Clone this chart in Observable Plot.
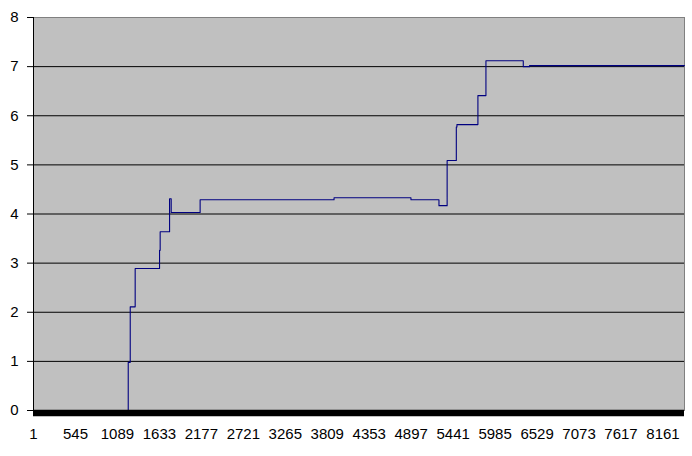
<!DOCTYPE html>
<html><head><meta charset="utf-8">
<script src="https://cdn.jsdelivr.net/npm/d3@7"></script>
<script src="https://cdn.jsdelivr.net/npm/@observablehq/plot@0.6"></script>
<style>body{margin:0;background:#fff} svg{display:block}</style>
</head><body><div id="chart"></div>
<script>
// Step series: index where each level starts, and the level value
const stepX = [1, 1229, 1255, 1319, 1635, 1643, 1765, 1786, 2161, 3897, 4894, 5257, 5363, 5482, 5490, 5762, 5866, 6350, 6431, 8439];
const stepY = [0, 0.98, 2.11, 2.89, 3.26, 3.64, 4.31, 4.03, 4.29, 4.33, 4.29, 4.17, 5.09, 5.77, 5.82, 6.41, 7.12, 7.0, 7.02, 7.02];
const xTickLabels = [1, 545, 1089, 1633, 2177, 2721, 3265, 3809, 4353, 4897, 5441, 5985, 6529, 7073, 7617, 8161];
const yTicks = [0, 1, 2, 3, 4, 5, 6, 7, 8];
const xMax = 8440;

const data = stepX.map((x, i) => ({x, y: stepY[i]}));

const chart = Plot.plot({
  width: 692, height: 456,
  marginLeft: 33, marginRight: 8, marginTop: 17, marginBottom: 46,
  style: {fontFamily: "Arial, 'Liberation Sans', sans-serif", fontSize: "15px", color: "black", background: "white"},
  x: {domain: [1, xMax], ticks: xTickLabels, tickFormat: d => String(d), tickSize: 0, tickPadding: 18, label: null},
  y: {domain: [0, 8], ticks: yTicks, tickSize: 6, tickPadding: 9, label: null},
  marks: [
    Plot.frame({fill: "#c0c0c0", stroke: "#808080"}),
    Plot.ruleY(yTicks.filter(v => v > 0 && v < 8), {stroke: "black"}),
    Plot.line(data, {x: "x", y: "y", curve: "step-after", stroke: "#000080", strokeWidth: 1.1}),
    Plot.ruleX([1], {stroke: "black"}),
    Plot.ruleY([0], {stroke: "black", strokeWidth: 6.5, dy: 2.5})
  ]
});
document.getElementById("chart").appendChild(chart);
</script>
</body></html>
